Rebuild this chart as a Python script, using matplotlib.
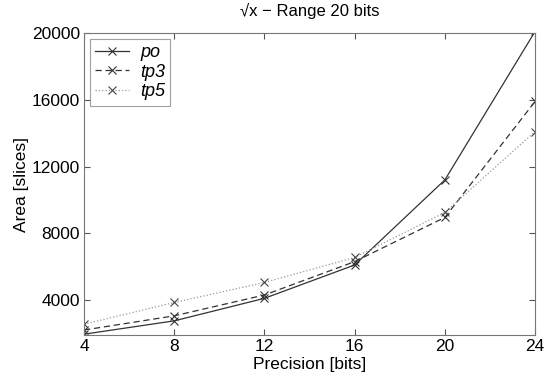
import matplotlib
matplotlib.use("Agg")
import matplotlib.pyplot as plt

plt.rcParams['font.family'] = ['Liberation Sans', 'DejaVu Sans']

precision = [4, 8, 12, 16, 20, 24]
po = [1950, 2750, 4100, 6100, 11200, 20100]
tp3 = [2200, 3050, 4300, 6300, 8950, 15900]
tp5 = [2550, 3850, 5050, 6550, 9250, 14100]
yticks = [4000, 8000, 12000, 16000, 20000]

fig = plt.figure(figsize=(5.46, 3.76), dpi=100)
ax = fig.add_axes([0.154, 0.109, 0.826, 0.803])

ax.plot(precision, po, '-', color='#333333', lw=0.9, marker='x', ms=6, mew=0.8, mec='#333333', label='po')
ax.plot(precision, tp3, '--', color='#333333', lw=0.9, dashes=(5, 3), marker='x', ms=6, mew=0.8, mec='#333333', label='tp3')
ax.plot(precision, tp5, ':', color='#999999', lw=0.9, marker='x', ms=6, mew=0.8, mec='#444444', label='tp5')

ax.set_xlim(4, 24)
ax.set_ylim(1900, 20000)
ax.set_xticks(precision)
ax.set_yticks(yticks)
ax.tick_params(direction='in', top=True, right=True, labelsize=12.5, length=4, color='#555555', pad=3)
for s in ax.spines.values():
    s.set_color('#777777')
    s.set_linewidth(0.8)

ax.set_xlabel('Precision [bits]', fontsize=12.5, labelpad=2)
ax.set_ylabel('Area [slices]', fontsize=12.5, labelpad=2)
ax.set_title('\u221ax \u2212 Range 20 bits', fontsize=12, pad=12)

leg = ax.legend(loc='upper left', prop={'style': 'italic', 'size': 13},
                fancybox=False, edgecolor='#888888', borderaxespad=0.3,
                handlelength=1.9, labelspacing=0.15, borderpad=0.3, handletextpad=0.6)
leg.get_frame().set_linewidth(0.8)

fig.savefig('out.png', dpi=100)
